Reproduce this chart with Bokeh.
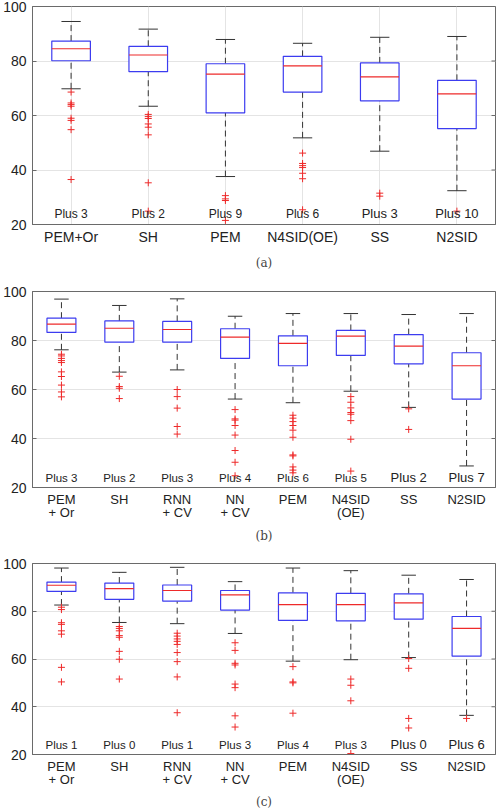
from bokeh.plotting import figure
from bokeh.models import ColumnDataSource, FixedTicker, Range1d, Title
from bokeh.layouts import column
from bokeh.core.properties import value
from bokeh.embed import file_html
from bokeh.resources import INLINE

# ---- data -----------------------------------------------------------------
methods_a = ["PEM+Or", "SH", "PEM", "N4SID(OE)", "SS", "N2SID"]
upper_a = [94.5, 91.7, 87.9, 86.5, 88.7, 89.0]
q3_a = [87.3, 85.4, 79.0, 81.7, 79.3, 72.9]
med_a = [84.5, 82.2, 75.2, 78.2, 74.2, 67.9]
q1_a = [80.1, 76.1, 61.0, 68.6, 65.4, 55.2]
lower_a = [69.8, 63.4, 37.6, 51.8, 46.9, 32.4]
outliers_a = [
    [68.6, 64.6, 64.0, 63.4, 59.0, 58.2, 54.8, 36.5],
    [60.4, 59.6, 58.9, 56.9, 55.7, 52.9, 35.3, 24.9],
    [30.6, 29.4, 28.8, 21.5],
    [46.2, 42.4, 41.6, 40.9, 38.8, 36.8, 25.4],
    [31.5, 30.4],
    [24.9],
]
plus_a = [3, 2, 9, 6, 3, 10]

methods_bc = ["PEM\n+ Or", "SH", "RNN\n+ CV", "NN\n+ CV", "PEM",
              "N4SID\n(OE)", "SS", "N2SID"]

upper_b = [96.9, 94.3, 97.0, 89.9, 91.0, 91.0, 90.6, 91.0]
q3_b = [89.1, 88.0, 87.8, 84.8, 81.9, 84.1, 82.4, 75.0]
med_b = [86.7, 85.0, 84.5, 81.4, 78.8, 81.8, 77.7, 69.7]
q1_b = [83.3, 79.3, 79.3, 72.7, 69.7, 73.9, 70.5, 56.1]
lower_b = [76.2, 67.1, 68.0, 56.1, 54.6, 59.3, 52.7, 28.8]
outliers_b = [
    [74.4, 73.7, 72.7, 71.8, 71.0, 67.2, 65.3, 61.8, 59.0, 57.0],
    [65.4, 61.2, 60.5, 56.3],
    [60.0, 57.1, 52.4, 44.9, 41.8],
    [51.8, 48.0, 47.5, 45.3, 41.4, 35.1, 30.3, 24.8],
    [49.5, 48.3, 46.9, 45.3, 43.4, 40.5, 33.3, 32.9, 28.4, 27.1, 26.0],
    [57.1, 54.8, 52.5, 50.6, 49.9, 47.3, 39.7, 26.7],
    [52.1, 43.7],
    [],
]
plus_b = [3, 2, 3, 4, 6, 5, 2, 7]

upper_c = [98.1, 96.3, 98.4, 92.4, 98.1, 97.0, 95.1, 93.3]
q3_c = [92.2, 91.8, 91.0, 88.7, 87.7, 87.5, 87.3, 77.8]
med_c = [90.9, 89.5, 88.7, 86.9, 82.8, 82.8, 83.5, 72.8]
q1_c = [88.3, 85.0, 84.2, 80.5, 76.2, 76.0, 76.7, 61.2]
lower_c = [82.6, 75.3, 74.8, 70.7, 59.1, 59.7, 60.6, 36.4]
outliers_c = [
    [81.7, 80.7, 75.2, 74.5, 71.8, 70.4, 56.5, 50.4],
    [73.6, 72.8, 71.8, 69.8, 69.1, 63.2, 59.9, 51.6],
    [70.8, 69.6, 68.4, 67.4, 66.1, 62.7, 58.9, 52.5, 37.5],
    [66.8, 63.6, 58.2, 57.5, 49.5, 48.0, 36.2, 31.5],
    [56.8, 50.4, 50.0, 37.3],
    [51.6, 49.0, 42.5, 20.4],
    [60.2, 56.1, 35.1, 31.1],
    [35.1],
]
plus_c = [1, 0, 1, 3, 4, 3, 0, 6]

y_ticks = [20, 40, 60, 80, 100]
plus_label_y = 24

# ---- styling --------------------------------------------------------------
SANS = "Liberation Sans"
SERIF = "DejaVu Serif"
BOX = "#3c3cf0"
RED = "#ee2a2a"
WHISK = "#333333"
FRAME = "#6a6a6a"
GRID = "#e4e4e4"
TEXT = "#222222"


def panel(names, lower, q1, med, q3, upper, outliers, plus, caption,
          height, top, bottom, right, vgrid, cat_size, plus_sizes,
          caption_gap):
    n = len(names)
    xs = list(range(1, n + 1))
    p = figure(width=504, height=height, output_backend="svg",
               toolbar_location=None, x_range=Range1d(0.5, n + 0.5),
               y_range=Range1d(20, 100), min_border_top=top,
               min_border_bottom=bottom, min_border_right=right,
               min_border_left=0)
    p.outline_line_color = FRAME
    p.outline_line_width = 1
    p.background_fill_color = "white"
    p.border_fill_color = "white"

    # grid
    p.ygrid.ticker = FixedTicker(ticks=y_ticks)
    p.ygrid.grid_line_color = GRID
    p.xgrid.ticker = FixedTicker(ticks=xs)
    p.xgrid.grid_line_color = GRID if vgrid else None

    # axes
    p.yaxis.ticker = FixedTicker(ticks=y_ticks)
    p.yaxis.major_tick_in = 4
    p.yaxis.major_tick_out = 0
    p.yaxis.minor_tick_line_color = None
    p.yaxis.axis_line_color = FRAME
    p.yaxis.major_tick_line_color = FRAME
    p.yaxis.major_label_text_font = SANS
    p.yaxis.major_label_text_font_size = "14px"
    p.yaxis.major_label_text_color = TEXT
    p.yaxis.major_label_standoff = 6

    p.xaxis.ticker = FixedTicker(ticks=xs)
    p.xaxis.major_label_overrides = {i: nm for i, nm in zip(xs, names)}
    p.xaxis.major_tick_in = 0
    p.xaxis.major_tick_out = 0
    p.xaxis.minor_tick_line_color = None
    p.xaxis.axis_line_color = FRAME
    p.xaxis.major_label_text_font = SANS
    p.xaxis.major_label_text_font_size = cat_size
    p.xaxis.major_label_text_color = TEXT
    p.xaxis.major_label_text_line_height = 0.9
    p.xaxis.major_label_standoff = 4

    # inward tick marks on the right edge of the frame (half of each dash
    # falls outside the frame and is clipped away)
    p.scatter([n + 0.5] * len(y_ticks), y_ticks, marker="dash", size=8,
              line_color=FRAME, line_width=1)

    src = ColumnDataSource(dict(
        x=xs, lower=lower, q1=q1, med=med, q3=q3, upper=upper,
        xl=[x - 0.25 for x in xs], xr=[x + 0.25 for x in xs],
        cl=[x - 0.125 for x in xs], cr=[x + 0.125 for x in xs],
    ))

    # dashed whiskers
    p.segment(x0="x", x1="x", y0="q3", y1="upper", source=src,
              line_color=WHISK, line_dash="6 4", line_width=1)
    p.segment(x0="x", x1="x", y0="lower", y1="q1", source=src,
              line_color=WHISK, line_dash="6 4", line_width=1)
    # whisker caps
    p.segment(x0="cl", x1="cr", y0="upper", y1="upper", source=src,
              line_color=WHISK, line_width=1)
    p.segment(x0="cl", x1="cr", y0="lower", y1="lower", source=src,
              line_color=WHISK, line_width=1)
    # boxes
    p.quad(left="xl", right="xr", bottom="q1", top="q3", source=src,
           fill_color="white", line_color=BOX, line_width=1.2)
    # medians
    p.segment(x0="xl", x1="xr", y0="med", y1="med", source=src,
              line_color=RED, line_width=1.2)

    # outliers
    ox, oy = [], []
    for x, vals in zip(xs, outliers):
        ox += [x] * len(vals)
        oy += vals
    p.scatter(ox, oy, marker="cross", size=7, line_color=RED, line_width=1)

    # counts of points below the visible range
    tsrc = ColumnDataSource(dict(
        x=xs, y=[plus_label_y] * n,
        t=["Plus %d" % k for k in plus], s=plus_sizes))
    p.text(x="x", y="y", text="t", source=tsrc, text_align="center",
           text_baseline="middle", text_font=value(SANS),
           text_font_size="s", text_color=TEXT)

    p.add_layout(Title(text=caption, align="center", text_font=SERIF,
                       text_font_size="12px", text_font_style="normal",
                       text_color="#444444", standoff=caption_gap), "below")
    return p


fa = panel(methods_a, lower_a, q1_a, med_a, q3_a, upper_a, outliers_a, plus_a,
           "(a)", 276, 6, 52, 7, True, "14px",
           ["12px", "12px", "12px", "12px", "13px", "13px"], 12)
fb = panel(methods_bc, lower_b, q1_b, med_b, q3_b, upper_b, outliers_b, plus_b,
           "(b)", 272, 15, 61, 9, False, "13px",
           ["11.5px"] * 6 + ["13px", "13px"], 6)
fc = panel(methods_bc, lower_c, q1_c, med_c, q3_c, upper_c, outliers_c, plus_c,
           "(c)", 263, 15, 53, 8, False, "13px",
           ["11.5px"] * 6 + ["13px", "13px"], 5)

layout = column(fa, fb, fc, spacing=0)
open("out.html", "w").write(file_html(layout, INLINE))
